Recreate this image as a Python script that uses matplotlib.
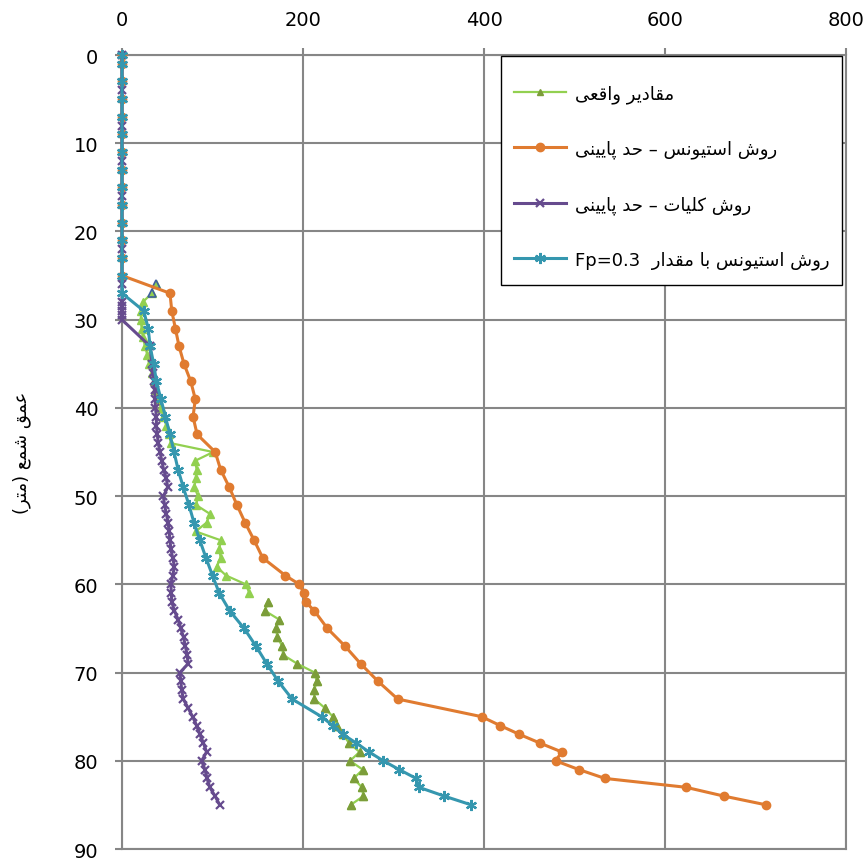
import re
import numpy as np
import matplotlib
matplotlib.use('Agg')
import matplotlib.pyplot as plt
from matplotlib.lines import Line2D
from matplotlib.path import Path

nan = np.nan

# depth (m) / value pairs
green_depth = [26, 26.5, 27, 28, 29, 30, 31, 32, 33, 34, 35, 36, 37, 38, 39, 40, 41, 42, 43, 44,
               45, 46, 47, 48, 49, 50, 51, 52, 53, 54, 55, 56, 57, 58, 59, 60, 61, 61.5,
               62, 63, 64, 65, 66, 67, 68, 69, 70, 71, 72, 73, 74, 75, 76, 77, 78, 79, 80,
               81, 82, 83, 84, 85]
green_value = [38, nan, 33, 23, 21.5, 20.6, 21.7, 23, 25.4, 28, 30, 33, 35, 36.5, 40, 43, 45.7, 49, 52, 54,
               100.8, 80.7, 82.5, 81.4, 80, 84, 81.8, 97, 93.5, 81.4, 109, 107.5, 109, 104.6, 115, 136.9, 140.7, nan,
               161.7, 158, 173.8, 170, 171.7, 177, 178, 193.7, 213, 215, 212.5, 212.5, 224, 233, 238, 244, 251, 262.5, 252,
               266, 256, 265, 266.7, 252.7]

orange_depth = [0, 1, 3, 5, 7, 9, 11, 13, 15, 17, 19, 21, 23, 25, 27, 29, 31, 33, 35, 37, 39, 41, 43,
                45, 47, 49, 51, 53, 55, 57, 59, 60, 61, 62, 63, 65, 67, 69, 71, 73, 75, 76, 77,
                78, 79, 80, 81, 82, 83, 84, 85]
orange_value = [0, 0, 0, 0, 0, 0, 0, 0, 0, 0, 0, 0, 0, 0, 53, 55, 59, 63, 68.5, 76, 81, 78.5, 83,
                103, 109, 118.6, 127, 136, 146, 155.5, 180.5, 196, 201, 203, 212.5, 227, 246.4, 263.7, 283, 304.6, 397.4, 417.7, 439,
                462, 486, 479, 505, 533.7, 623, 665, 712]

purple_depth = [0, 4, 8, 12, 16, 22, 26, 28, 28.5, 29, 29.5, 30, 33, 35, 36, 37, 38, 39, 40, 41, 42,
                43, 44, 45, 46, 47, 48, 49, 50, 51, 52, 53, 54, 55, 56, 57, 58, 59, 60, 61, 62,
                63, 64, 65, 66, 67, 68, 69, 70, 71, 72, 73, 74, 75, 76, 77, 78, 79, 80, 81, 82,
                83, 84, 85]
purple_value = [0, 0, 0, 0, 0, 0, 0, 0, 0, 0, 0, 0, 31, 33, 34, 35, 36, 36.5, 37, 38, 38,
                39, 40, 42, 44, 46, 49, 50.5, 45.7, 47, 49, 51, 52, 53, 54, 56, 58, 56, 54, 54.5, 55,
                58, 62, 65, 68, 70, 72, 73, 64, 65, 66, 67.7, 73, 78, 82.5, 86, 90, 93.5, 88, 91.7, 94,
                97, 102.8, 108]

teal_depth = [0, 1, 3, 5, 7, 9, 11, 13, 15, 17, 19, 21, 23, 25, 27, 29, 31, 33, 35, 37, 39, 41, 43,
              45, 47, 49, 51, 53, 55, 57, 59, 61, 63, 65, 67, 69, 71, 73, 75, 76, 77, 78, 79,
              80, 81, 82, 83, 84, 85]
teal_value = [0, 0, 0, 0, 0, 0, 0, 0, 0, 0, 0, 0, 0, 0, 0, 24, 29, 31, 35, 38, 43, 48, 53,
              57.5, 62, 67.7, 74, 79.5, 86, 92.8, 100, 107.5, 119, 135, 148, 160, 172.7, 188, 220.5, 232.7, 244, 259, 273,
              288.7, 306.4, 325, 328, 356, 386]

labels = ['مقادیر واقعی',
          'روش استیونس – حد پایینی',
          'روش کلیات – حد پایینی',
          'روش استیونس با مقدار  Fp=0.3']
ylabel = 'عمق شمع (متر)'
x_ticks = [0, 200, 400, 600, 800]
y_ticks = [0, 10, 20, 30, 40, 50, 60, 70, 80, 90]

# matplotlib has no arabic shaping, so pick presentation forms by hand
FORMS = {
    'ا': ('\uFE8D', '\uFE8E', None, None),
    'ب': ('\uFE8F', '\uFE90', '\uFE91', '\uFE92'),
    'پ': ('\uFB56', '\uFB57', '\uFB58', '\uFB59'),
    'ت': ('\uFE95', '\uFE96', '\uFE97', '\uFE98'),
    'ح': ('\uFEA1', '\uFEA2', '\uFEA3', '\uFEA4'),
    'د': ('\uFEA9', '\uFEAA', None, None),
    'ر': ('\uFEAD', '\uFEAE', None, None),
    'س': ('\uFEB1', '\uFEB2', '\uFEB3', '\uFEB4'),
    'ش': ('\uFEB5', '\uFEB6', '\uFEB7', '\uFEB8'),
    'ع': ('\uFEC9', '\uFECA', '\uFECB', '\uFECC'),
    'ق': ('\uFED5', '\uFED6', '\uFED7', '\uFED8'),
    'ک': ('\uFB8E', '\uFB8F', '\uFB90', '\uFB91'),
    'ل': ('\uFEDD', '\uFEDE', '\uFEDF', '\uFEE0'),
    'م': ('\uFEE1', '\uFEE2', '\uFEE3', '\uFEE4'),
    'ن': ('\uFEE5', '\uFEE6', '\uFEE7', '\uFEE8'),
    'و': ('\uFEED', '\uFEEE', None, None),
    'ی': ('\uFBFC', '\uFBFD', '\uFBFE', '\uFBFF'),
}


def shape(text):
    out = []
    for i, ch in enumerate(text):
        if ch not in FORMS:
            out.append(ch)
            continue
        prev = text[i - 1] if i > 0 else ''
        nxt = text[i + 1] if i + 1 < len(text) else ''
        join_prev = prev in FORMS and FORMS[prev][2] is not None
        join_next = FORMS[ch][2] is not None and nxt in FORMS
        iso, fin, ini, med = FORMS[ch]
        if join_prev and join_next:
            out.append(med)
        elif join_prev:
            out.append(fin)
        elif join_next:
            out.append(ini)
        else:
            out.append(iso)
    return ''.join(out)


def rtl(text):
    runs = re.findall(r'[A-Za-z0-9=.]+|[^A-Za-z0-9=.]+', shape(text))
    mirror = str.maketrans('()', ')(')
    out = []
    for r in reversed(runs):
        if re.match(r'[A-Za-z0-9]', r):
            out.append(r)
        else:
            out.append(r[::-1].translate(mirror))
    return ''.join(out)


# legend frame with more room above the entries than below
def legend_frame(x0, y0, width, height, mutation_size):
    top = y0 + height + 0.87 * mutation_size
    bottom = y0 - 0.2 * mutation_size
    return Path([(x0, bottom), (x0 + width, bottom), (x0 + width, top), (x0, top), (x0, bottom)],
                closed=True)


plt.rcParams['font.family'] = ['DejaVu Sans']

fig = plt.figure(figsize=(8.64, 8.62), dpi=100)
ax = fig.add_axes([0.1412, 0.0139, 0.838, 0.9211])

c_green = '#92D050'
c_olive = '#7C9D3A'
c_orange = '#E07B30'
c_purple = '#664B8E'
c_teal = '#3597AF'

gd = np.array(green_depth, dtype=float)
gv = np.array(green_value, dtype=float)
ax.plot(gv, gd, color=c_green, lw=1.6, marker='^', ms=6, mfc=c_green, mec=c_green, zorder=3, clip_on=False)
low = gd >= 62
ax.plot(gv[low], gd[low], ls='none', marker='^', ms=6, mfc=c_olive, mec=c_olive, zorder=3, clip_on=False)
top = gd <= 27
ax.plot(gv[top], gd[top], ls='none', marker='^', ms=6, mfc=c_green, mec='#3F5F9F', mew=1.2, zorder=3, clip_on=False)

ax.plot(orange_value, orange_depth, color=c_orange, lw=2.2, marker='o', ms=6,
        mfc=c_orange, mec=c_orange, zorder=4, clip_on=False)
ax.plot(purple_value, purple_depth, color=c_purple, lw=2.2, marker='x', ms=6, mew=1.6,
        mec=c_purple, zorder=5, clip_on=False)
ax.plot(teal_value, teal_depth, color=c_teal, lw=2.2, marker=(6, 2, 0), ms=8, mew=1.6,
        mec=c_teal, zorder=6, clip_on=False)

ax.set_xlim(0, 800)
ax.set_ylim(90, 0)
ax.set_xticks(x_ticks)
ax.set_yticks(y_ticks)
ax.xaxis.tick_top()
ax.tick_params(axis='both', labelsize=14, color='#868686', length=5, width=1.5)
ax.tick_params(axis='y', pad=12)
ax.tick_params(axis='x', pad=14)
ax.grid(True, color='#868686', lw=1.5)
ax.set_axisbelow(True)
for s in ax.spines.values():
    s.set_color('#868686')
    s.set_linewidth(1.5)

ax.set_ylabel(rtl(ylabel), fontsize=13)
ax.yaxis.set_label_coords(-0.125, 0.5)

handles = [
    Line2D([], [], color=c_green, lw=1.6, marker='^', ms=5, mfc=c_olive, mec=c_olive),
    Line2D([], [], color=c_orange, lw=2.2, marker='o', ms=6, mfc=c_orange, mec=c_orange),
    Line2D([], [], color=c_purple, lw=2.2, marker='x', ms=6, mew=1.6, mec=c_purple),
    Line2D([], [], color=c_teal, lw=2.2, marker=(6, 2, 0), ms=8, mew=1.6, mec=c_teal),
]
leg = ax.legend(handles, [rtl(t) for t in labels], loc='upper right',
                bbox_to_anchor=(0.995, 0.979), borderaxespad=0, fontsize=13,
                handlelength=2.9, handletextpad=0.5,
                labelspacing=2.04, borderpad=0.7,
                fancybox=False, framealpha=1, edgecolor='black', numpoints=1)
leg.get_frame().set_boxstyle(legend_frame)
leg.get_frame().set_linewidth(1.0)
leg.set_zorder(10)

fig.savefig('out.png', dpi=100)
